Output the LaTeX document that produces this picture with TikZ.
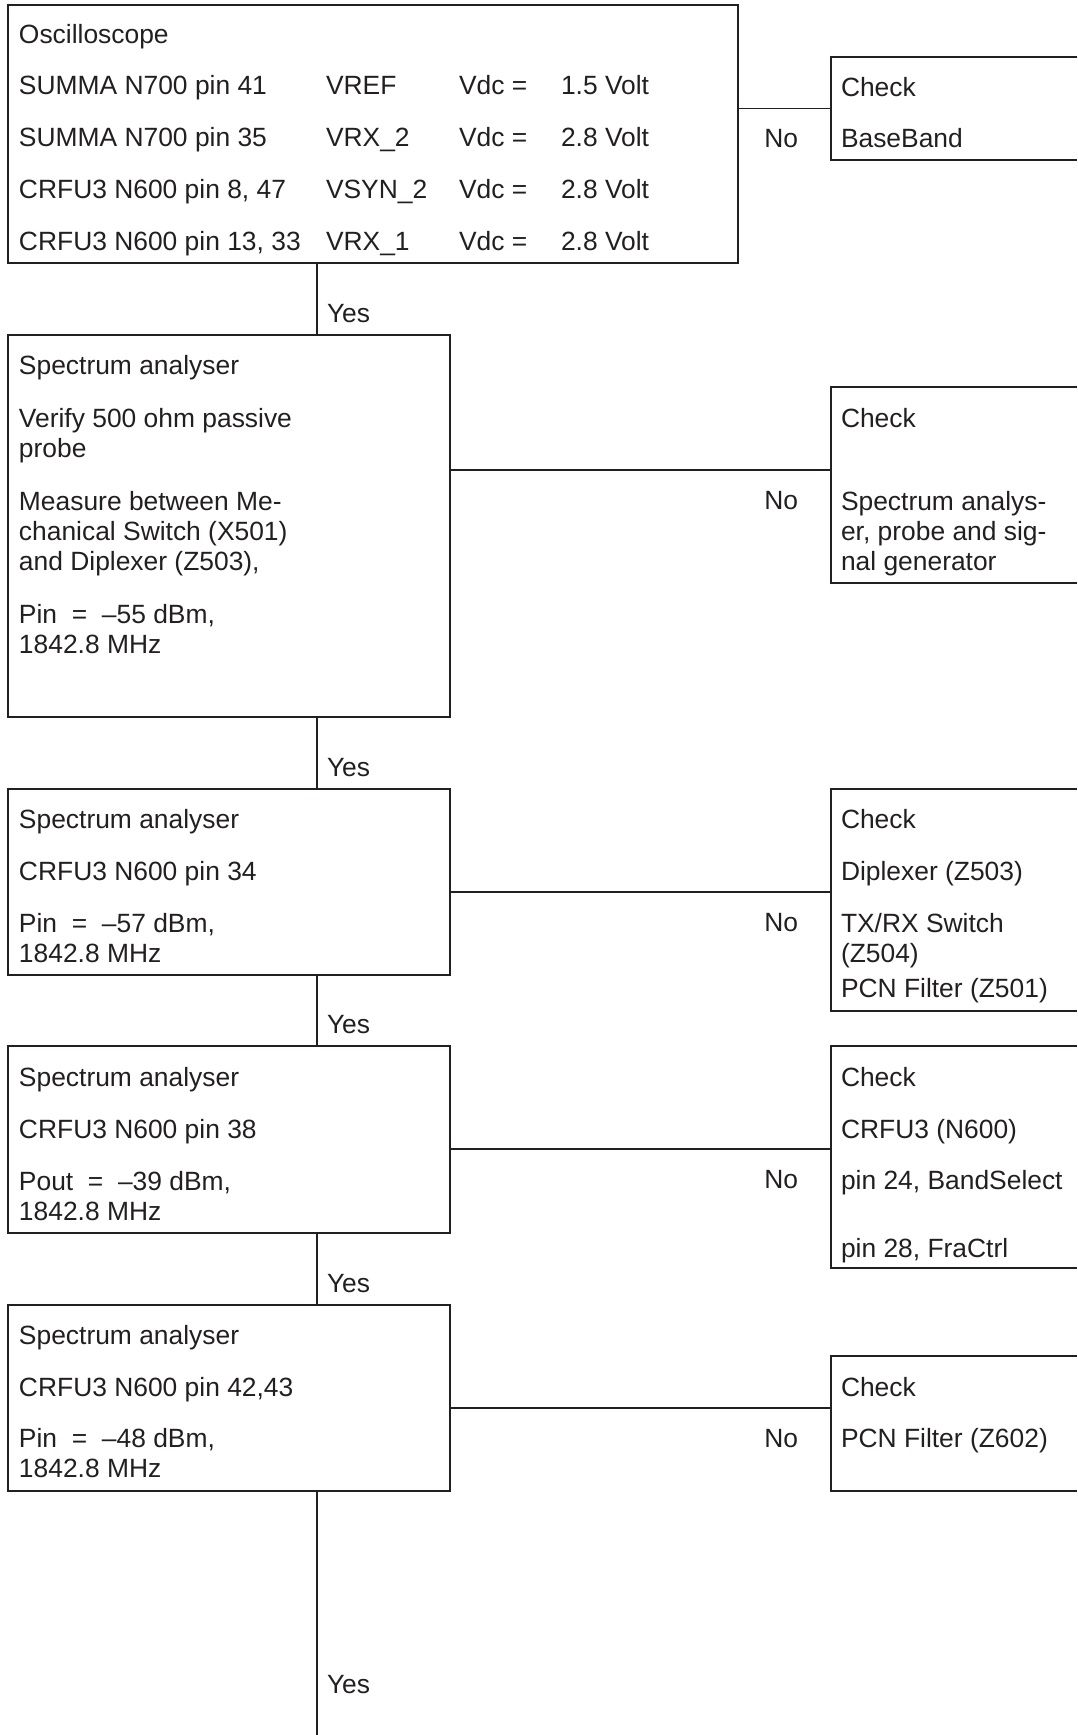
\documentclass[tikz,border=0pt]{standalone}
\usepackage{fontspec}
\setmainfont{Liberation Sans}
\definecolor{ink}{RGB}{35,31,32}

\begin{document}
\begin{tikzpicture}[x=1pt,y=-1pt,line width=1.3pt,color=ink,
 every node/.style={font=\fontsize{26.4}{30}\selectfont,inner sep=0pt,outer sep=0pt},
 box/.style={draw,anchor=north west,minimum width=442pt},
 chk/.style={anchor=north west,minimum width=246pt},
 txt/.style={anchor=base west,align=left},
 yes/.style={pos=.83,anchor=base west,xshift=10pt},
 no/.style={pos=1,anchor=base east,xshift=-33pt,yshift=-39pt}]
\useasboundingbox (0,0) rectangle (1077,1735);
\node[box,minimum width=730pt,minimum height=258pt] (osc) at (8,5) {};
\node[chk,minimum height=103pt] (chk1) at (831,57) {};
\node[box,minimum height=382pt] (sa1) at (8,335) {};
\node[chk,minimum height=196pt] (chk2) at (831,387) {};
\node[box,minimum height=186pt] (sa2) at (8,789) {};
\node[chk,minimum height=222pt] (chk3) at (831,789) {};
\node[box,minimum height=187pt] (sa3) at (8,1046) {};
\node[chk,minimum height=222pt] (chk4) at (831,1046) {};
\node[box,minimum height=186pt] (sa4) at (8,1305) {};
\node[chk,minimum height=135pt] (chk5) at (831,1356) {};
\foreach \c in {chk1,chk2,chk3,chk4,chk5}
 \draw (\c.north east) -| (\c.south west) -- (\c.south east);

% multi-line texts sit on the baseline of their last line
\node[txt] (osc-t) at (19,43) {Oscilloscope};
\foreach \pin/\sig/\v [count=\i] in {{SUMMA N700 pin 41}/VREF/1.5,{SUMMA N700 pin 35}/VRX\_2/2.8,
 {CRFU3 N600 pin 8, 47}/VSYN\_2/2.8,{CRFU3 N600 pin 13, 33}/VRX\_1/2.8}{
 \node[txt] (pin\i) at (19,43+51.75*\i) {\pin};
 \node[txt] (sig\i) at (326,43+51.75*\i) {\sig};
 \node[txt] (vdc\i) at (459,43+51.75*\i) {Vdc =};
 \node[txt] (val\i) at (561,43+51.75*\i) {\v\ Volt};
}
\node[txt] (chk1-t) at (841,147) {Check\\[21pt]BaseBand};

\node[txt] (sa1-t) at (19,653) {Spectrum analyser\\[23pt]Verify 500 ohm passive\\probe\\[23pt]Measure between Me-\\chanical Switch (X501)\\and Diplexer (Z503),\\[23pt]Pin \ = \ –55 dBm,\\1842.8 MHz};
\node[txt] (chk2-t) at (841,570) {Check\\[53pt]Spectrum analys-\\er, probe and sig-\\nal generator};
\node[txt] (sa2-t) at (19,962) {Spectrum analyser\\[22pt]CRFU3 N600 pin 34\\[22pt]Pin \ = \ –57 dBm,\\1842.8 MHz};
\node[txt] (chk3-t) at (841,997) {Check\\[22pt]Diplexer (Z503)\\[22pt]TX/RX Switch\\(Z504)\\[5pt]PCN Filter (Z501)};
\node[txt] (sa3-t) at (19,1220) {Spectrum analyser\\[22pt]CRFU3 N600 pin 38\\[22pt]Pout \ = \ –39 dBm,\\1842.8 MHz};
\node[txt] (chk4-t) at (841,1257) {Check\\[22pt]CRFU3 (N600)\\[21pt]pin 24, BandSelect\\[38pt]pin 28, FraCtrl};
\node[txt] (sa4-t) at (19,1477) {Spectrum analyser\\[22pt]CRFU3 N600 pin 42,43\\[21pt]Pin \ = \ –48 dBm,\\1842.8 MHz};
\node[txt] (chk5-t) at (841,1447) {Check\\[21pt]PCN Filter (Z602)};

\coordinate (spine) at (317,0);
\coordinate (end) at (317,1735);
\draw (osc.south -| spine) -- node[yes] (yes1) {Yes} (sa1.north -| spine);
\draw (sa1.south -| spine) -- node[yes] (yes2) {Yes} (sa2.north -| spine);
\draw (sa2.south -| spine) -- node[yes] (yes3) {Yes} (sa3.north -| spine);
\draw (sa3.south -| spine) -- node[yes] (yes4) {Yes} (sa4.north -| spine);
\draw (sa4.south -| spine) -- node[yes] (yes5) {Yes} (end);

\coordinate (l2) at (0,470);
\coordinate (l3) at (0,892);
\coordinate (l4) at (0,1149);
\coordinate (l5) at (0,1408);
\draw (osc.east |- chk1.west) -- node[no] (no1) {No} (chk1.west);
\draw (sa1.east |- l2) -- node[no] (no2) {No} (chk2.west |- l2);
\draw (sa2.east |- l3) -- node[no] (no3) {No} (chk3.west |- l3);
\draw (sa3.east |- l4) -- node[no] (no4) {No} (chk4.west |- l4);
\draw (sa4.east |- l5) -- node[no] (no5) {No} (chk5.west |- l5);
\end{tikzpicture}
\end{document}
